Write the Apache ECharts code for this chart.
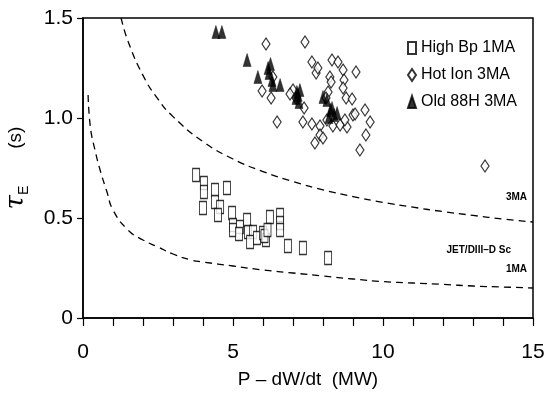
<!DOCTYPE html>
<html>
<head>
<meta charset="utf-8">
<script src="https://cdn.jsdelivr.net/npm/echarts@6/dist/echarts.min.js"></script>
<style>
  html, body { margin: 0; padding: 0; background: #fff; }
  #chart { width: 544px; height: 399px; }
</style>
</head>
<body>
<div id="chart"></div>
<script>
// values
const highBp = [
  [3.77, 0.715], [4.03, 0.675], [4.03, 0.63], [4.4, 0.64], [4.8, 0.65], [4.0, 0.55],
  [4.4, 0.58], [4.57, 0.555], [4.5, 0.515], [4.97, 0.525], [5.0, 0.465], [5.0, 0.44],
  [5.23, 0.455], [5.47, 0.49], [5.5, 0.43], [5.67, 0.43], [5.57, 0.38], [5.8, 0.40],
  [6.0, 0.425], [6.1, 0.39], [6.05, 0.41], [6.23, 0.505], [6.57, 0.515], [6.57, 0.475],
  [6.57, 0.44], [6.83, 0.36], [7.33, 0.35], [8.17, 0.30], [5.2, 0.42], [6.15, 0.44]
];
const hotIon = [
  [6.1, 1.37], [7.4, 1.38], [5.97, 1.135], [6.27, 1.10], [6.47, 0.98], [6.33, 1.205],
  [7.37, 1.05], [7.33, 0.98], [7.63, 0.97], [7.63, 1.28], [7.77, 1.225], [7.83, 1.25],
  [8.3, 1.29], [8.5, 1.28], [8.67, 1.24], [8.23, 1.205], [8.27, 1.18], [9.1, 1.23],
  [8.7, 1.19], [8.67, 1.15], [8.77, 1.10], [8.97, 1.095], [7.9, 0.96], [7.9, 0.915],
  [7.73, 0.875], [8.0, 0.90], [8.13, 0.99], [8.33, 0.96], [8.57, 0.965], [8.8, 0.955],
  [8.73, 0.99], [9.0, 1.015], [9.07, 1.02], [9.4, 1.04], [9.57, 0.98], [9.43, 0.915],
  [9.23, 0.84], [8.17, 1.13], [8.1, 1.10], [13.4, 0.76], [7.0, 1.14], [7.1, 1.10], [6.9, 1.12]
];
const old88H = [
  [4.43, 1.43], [4.63, 1.43], [5.47, 1.29], [5.83, 1.205], [6.17, 1.25], [6.2, 1.225],
  [6.3, 1.19], [6.33, 1.165], [6.57, 1.165], [7.13, 1.13], [7.17, 1.115], [7.23, 1.14],
  [7.1, 1.10], [8.0, 1.105], [8.13, 1.09], [8.3, 1.05], [8.37, 1.015], [8.47, 1.025],
  [8.2, 1.005], [8.25, 1.04], [6.25, 1.27], [7.2, 1.08]
];
// dashed JET/DIII-D scaling curves
const curve3MA = [
  [1.27, 1.5], [1.5, 1.384], [2, 1.213], [2.5, 1.094], [3, 1.007], [4, 0.882], [5, 0.795],
  [6, 0.732], [7, 0.682], [8, 0.641], [9, 0.607], [10, 0.578], [11, 0.554], [12, 0.532],
  [13, 0.513], [14, 0.495], [15, 0.48]
];
const curve1MA = [
  [0.17, 1.115], [0.25, 0.95], [0.4, 0.84], [0.57, 0.74], [0.8, 0.63], [1.0, 0.54],
  [1.5, 0.44], [2, 0.39], [2.5, 0.355], [3, 0.32], [3.6, 0.29], [4, 0.28], [5, 0.26],
  [6, 0.24], [7, 0.225], [8, 0.21], [9, 0.195], [10, 0.182], [11, 0.175], [12, 0.168],
  [13, 0.16], [14, 0.155], [15, 0.15]
];
const legendNames = ['High Bp 1MA', 'Hot Ion 3MA', 'Old 88H 3MA'];
const xTickLabels = [0, 5, 10, 15];

const font = 'Liberation Sans, Arial, sans-serif';
const chart = echarts.init(document.getElementById('chart'));

const dashed = (data) => ({
  type: 'line',
  data: data,
  smooth: true,
  symbol: 'none',
  silent: true,
  lineStyle: { color: '#000', width: 1.3, type: [7, 5] }
});

chart.setOption({
  animation: false,
  backgroundColor: '#fff',
  grid: {
    left: 83, right: 11, top: 18, bottom: 81,
    outerBoundsMode: 'none',
    show: true, borderColor: '#000', borderWidth: 1.5
  },
  legend: {
    data: legendNames,
    orient: 'vertical',
    left: 402, top: 35,
    itemGap: 11,
    itemWidth: 8, itemHeight: 12,
    textStyle: { fontFamily: font, fontSize: 16, color: '#000' }
  },
  xAxis: {
    type: 'value',
    min: 0, max: 15, interval: 1,
    name: 'P – dW/dt  (MW)',
    nameLocation: 'middle',
    nameGap: 52,
    nameTextStyle: { fontFamily: font, fontSize: 19, color: '#000' },
    axisLine: { lineStyle: { color: '#000', width: 1.5 } },
    axisTick: { length: 8, lineStyle: { color: '#000', width: 1.2 } },
    axisLabel: {
      margin: 24, color: '#000', fontFamily: font, fontSize: 21,
      formatter: v => xTickLabels.includes(v) ? String(v) : ''
    },
    splitLine: { show: false }
  },
  yAxis: {
    type: 'value',
    min: 0, max: 1.5, interval: 0.5,
    name: '{t|τ}{e|E}       (s)',
    nameLocation: 'middle',
    nameRotate: 90,
    nameGap: 52,
    nameTextStyle: {
      fontFamily: font, fontSize: 19, color: '#000',
      rich: {
        t: { fontSize: 26, fontStyle: 'italic', fontFamily: 'DejaVu Serif', color: '#000', lineHeight: 30 },
        e: { fontSize: 14, color: '#000', verticalAlign: 'bottom', lineHeight: 14, padding: [10, 0, 0, 0] }
      }
    },
    axisLine: { lineStyle: { color: '#000', width: 1.5 } },
    axisTick: { length: 6, lineStyle: { color: '#000', width: 1.2 } },
    axisLabel: {
      margin: 10, color: '#000', fontFamily: font, fontSize: 21,
      formatter: v => v === 0 ? '0' : v.toFixed(1)
    },
    splitLine: { show: false }
  },
  series: [
    dashed(curve3MA),
    dashed(curve1MA),
    {
      name: legendNames[0], type: 'scatter', data: highBp,
      symbol: 'rect', symbolSize: [7, 13],
      itemStyle: { color: '#fff', borderColor: '#000', borderWidth: 1.2 }
    },
    {
      name: legendNames[1], type: 'scatter', data: hotIon,
      symbol: 'diamond', symbolSize: [8, 12],
      itemStyle: { color: '#fff', borderColor: '#000', borderWidth: 1.2 }
    },
    {
      name: legendNames[2], type: 'scatter', data: old88H,
      symbol: 'triangle', symbolSize: [8, 13],
      itemStyle: { color: '#000', borderColor: '#000', borderWidth: 0.5 }
    }
  ],
  graphic: [
    { type: 'text', right: 17, top: 192, style: { text: '3MA', font: 'bold 10px ' + font, fill: '#000' } },
    { type: 'text', right: 33, top: 245, style: { text: 'JET/DIII–D Sc', font: 'bold 10px ' + font, fill: '#000' } },
    { type: 'text', right: 17, top: 264, style: { text: '1MA', font: 'bold 10px ' + font, fill: '#000' } }
  ]
});
</script>
</body>
</html>
